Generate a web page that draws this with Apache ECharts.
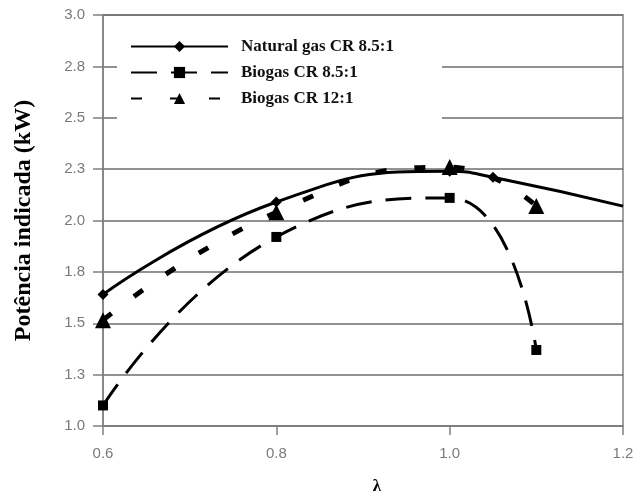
<!DOCTYPE html>
<html lang="pt">
<head>
<meta charset="utf-8" />
<script src="https://cdn.jsdelivr.net/npm/echarts@6/dist/echarts.min.js"></script>
<title>Potência indicada</title>
<style>
  html, body { margin: 0; padding: 0; background: #fff; }
  #chart { width: 637px; height: 500px; }
</style>
</head>
<body>
<div id="chart"></div>
<script>
// lambda values and indicated power (kW)
var seriesNames = ['Natural gas CR 8.5:1', 'Biogas CR 8.5:1', 'Biogas CR 12:1'];

var gasLambda = [0.6, 0.8, 1.0, 1.05, 1.2];
var gasPower  = [1.64, 2.09, 2.24, 2.21, 2.07];

var bio85Lambda = [0.6, 0.8, 1.0, 1.1];
var bio85Power  = [1.10, 1.92, 2.11, 1.37];

var bio12Lambda = [0.6, 0.8, 1.0, 1.1];
var bio12Power  = [1.515, 2.04, 2.26, 2.07];

var xTicks = ['0.6', '0.8', '1.0', '1.2'];
var yTicks = ['1.0', '1.3', '1.5', '1.8', '2.0', '2.3', '2.5', '2.8', '3.0'];

function pairs(xs, ys) {
  return xs.map(function (x, i) { return [x, ys[i]]; });
}

var chart = echarts.init(document.getElementById('chart'));

var serif = '"Times New Roman", "Liberation Serif", serif';
var sans = 'Arial, "Liberation Sans", sans-serif';
var gridGray = '#6e6e6e';

var option = {
  animation: false,
  backgroundColor: '#fff',
  grid: {
    left: 103, right: 14, top: 15, bottom: 71,
    show: true,
    borderColor: '#808080',
    borderWidth: 1.5
  },
  legend: {
    orient: 'vertical',
    left: 117,
    top: 25,
    backgroundColor: '#fff',
    padding: [13, 48, 20, 13],
    itemWidth: 97,
    itemHeight: 14,
    itemGap: 9,
    textStyle: {
      fontFamily: serif,
      fontWeight: 'bold',
      fontSize: 17,
      color: '#111',
      padding: [0, 0, 0, 8]
    },
    data: seriesNames
  },
  xAxis: {
    type: 'value',
    min: 0.6,
    max: 1.2,
    interval: 0.2,
    name: 'λ',
    nameLocation: 'middle',
    nameGap: 52,
    nameTextStyle: {
      fontFamily: serif, fontWeight: 'bold', fontSize: 17, color: '#000',
      padding: [0, 0, 0, 28]
    },
    axisLine: { lineStyle: { color: '#808080', width: 1.5 } },
    axisTick: { show: true, length: 9, lineStyle: { color: '#808080', width: 1.5 } },
    axisLabel: {
      margin: 20,
      fontFamily: sans, fontSize: 15, color: '#7a7a7a',
      formatter: function (v) {
        var i = Math.round((v - 0.6) / 0.2);
        return xTicks[i] || '';
      }
    },
    splitLine: { show: false }
  },
  yAxis: {
    type: 'value',
    min: 1.0,
    max: 3.0,
    interval: 0.25,
    name: 'Potência indicada (kW)',
    nameLocation: 'middle',
    nameGap: 67,
    nameTextStyle: {
      fontFamily: serif, fontWeight: 'bold', fontSize: 24, color: '#000'
    },
    axisLine: { show: true, lineStyle: { color: '#808080', width: 1.5 } },
    axisTick: { show: true, length: 10, lineStyle: { color: '#808080', width: 1.5 } },
    axisLabel: {
      margin: 18,
      fontFamily: sans, fontSize: 15, color: '#7a7a7a',
      formatter: function (v) {
        var i = Math.round((v - 1.0) / 0.25);
        return yTicks[i] || '';
      }
    },
    splitLine: { show: true, lineStyle: { color: gridGray, width: 1.5 } }
  },
  series: [
    {
      name: seriesNames[0],
      type: 'line',
      smooth: 0.5,
      data: pairs(gasLambda, gasPower),
      symbol: 'diamond',
      symbolSize: function (val, params) {
        return params.dataIndex === gasLambda.length - 1 ? 0 : 11;
      },
      itemStyle: { color: '#000' },
      lineStyle: { color: '#000', width: 3 },
      z: 3
    },
    {
      name: seriesNames[1],
      type: 'line',
      smooth: 0.5,
      data: pairs(bio85Lambda, bio85Power),
      symbol: 'rect',
      symbolSize: 10,
      itemStyle: { color: '#000' },
      lineStyle: { color: '#000', width: 3, type: [26, 14] },
      z: 2
    },
    {
      name: seriesNames[2],
      type: 'line',
      smooth: 0.5,
      data: pairs(bio12Lambda, bio12Power),
      symbol: 'triangle',
      symbolSize: 16,
      itemStyle: { color: '#000' },
      lineStyle: { color: '#000', width: 5, type: [11, 28] },
      z: 2
    }
  ]
};

chart.setOption(option);
</script>
</body>
</html>
